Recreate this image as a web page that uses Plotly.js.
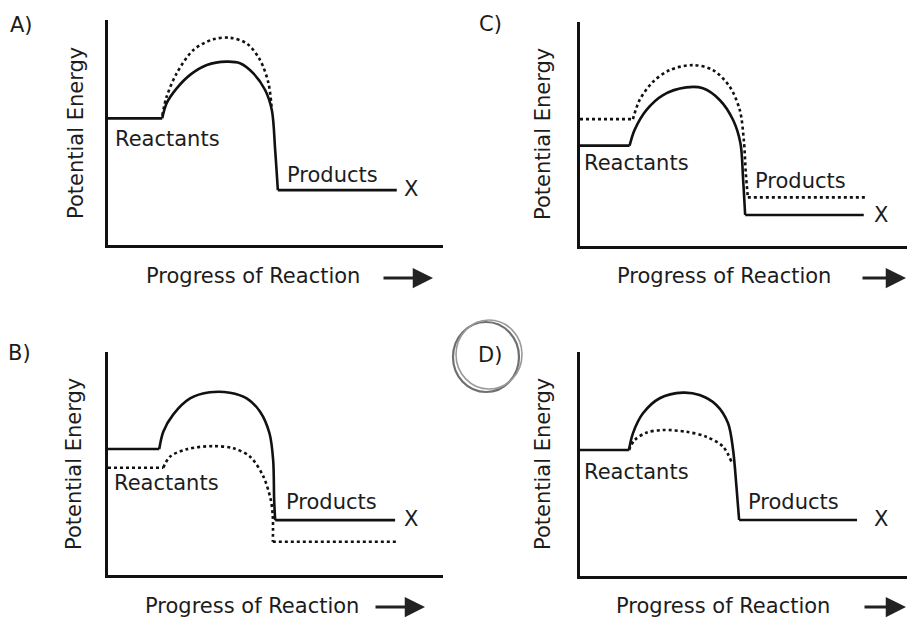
<!DOCTYPE html>
<html><head><meta charset="utf-8">
<script src="https://cdn.plot.ly/plotly-3.0.1.min.js"></script>
<style>html,body{margin:0;padding:0;background:#fff}#chart{width:907px;height:618px}</style>
</head><body><div id="chart"></div>
<script>
// ---------------- DATA (progress 0-100, potential energy 0-100) ----------------
// Panel A
const aSolidX  = [0, 16.2, 17.5, 20.5, 24.5, 29.5, 35.4, 39.4, 43.4, 46.9, 48.9, 49.9, 50.7, 86.2];
const aSolidY  = [56.3, 56.3, 63, 69.6, 75.6, 80, 81.5, 80.8, 76.3, 68.9, 60, 42.2, 24.4, 24.4];
const aDotX    = [16.2, 17.5, 20.5, 25.5, 31.4, 36.4, 41.4, 45.4, 47.9, 48.9];
const aDotY    = [57.5, 65.9, 76.3, 86.7, 91.4, 92.1, 89.6, 82.2, 71.9, 60];
// Panel B
const bSolidX  = [0, 15.3, 16.5, 19.5, 24.5, 30.4, 36.4, 41.4, 45.4, 48.2, 49.3, 49.6, 49.9, 85.7];
const bSolidY  = [56, 56, 63.7, 71.4, 78.5, 81.2, 81, 78.5, 72.6, 63, 51.1, 33.3, 24.4, 24.4];
const bDotX    = [0, 16.5, 18.5, 23.5, 31.4, 37.4, 42.4, 46.4, 48.6, 49.2, 49.2, 86.7];
const bDotY    = [47.7, 47.7, 52.6, 55.9, 57.3, 56.3, 52.6, 43.7, 33.3, 25.9, 14.8, 14.8];
// Panel C
const cSolidX  = [0, 14.8, 16.3, 19.8, 24.8, 31.7, 36.7, 41.7, 45.7, 47.9, 48.7, 49.3, 84.7];
const cSolidY  = [44.6, 44.6, 51.6, 60.4, 67.1, 70.5, 70.1, 64.9, 56, 45.6, 29.3, 13.8, 13.8];
const cDotX    = [0, 15.8, 17.8, 21.8, 26.8, 33.7, 39.7, 44.7, 47.7, 48.9, 49.5, 50.1, 85.2];
const cDotY    = [56.4, 56.4, 64.9, 73, 78.2, 80.4, 78.2, 70.8, 60.4, 47.1, 32.3, 21.6, 21.6];
// Panel D
const dSolidX  = [0, 14.6, 15.8, 18.8, 23.8, 30.7, 35.7, 40.7, 44.2, 45.7, 46.7, 47.5, 82.7];
const dSolidY  = [56, 56, 63.4, 72.3, 79, 81.5, 80.4, 76, 67.9, 56, 39.7, 24.9, 24.9];
const dDotX    = [14.6, 16.3, 19.8, 24.8, 31.7, 37.7, 42.7, 45.2];
const dDotY    = [56, 60.4, 63.7, 64.9, 64.1, 61.9, 57.5, 50.8];

// Text
const panelLetters = ['A)', 'B)', 'C)', 'D)'];
const yTitle = 'Potential Energy';
const xTitle = 'Progress of Reaction';
const reactLabel = 'Reactants';
const prodLabel = 'Products';
const xMark = 'X';

// ---------------- LAYOUT / BUILD ----------------
const W = 907, H = 618;
const px = v => v / W;
const py = v => 1 - v / H;
const FONT = 'DejaVu Sans';
const INK = '#111';
const TXT = '#1c1c1c';

const panels = [
  {xa:'x',  ya:'y',  left:108, right:443, top:20,  bottom:245, solid:[aSolidX,aSolidY], dot:[aDotX,aDotY], dotFlat:false,
   letter:[21,25], react:[167,139], prod:[332,175], xm:[411,189], yt:[76,133], xt:[253,276], arrow:[382,433,278]},
  {xa:'x2', ya:'y2', left:108, right:443, top:352, bottom:575, solid:[bSolidX,bSolidY], dot:[bDotX,bDotY], dotFlat:true,
   letter:[19,353], react:[166,483], prod:[331,502], xm:[411,519], yt:[74,464], xt:[252,606], arrow:[374,425,607]},
  {xa:'x3', ya:'y3', left:580, right:915, top:22,  bottom:246, solid:[cSolidX,cSolidY], dot:[cDotX,cDotY], dotFlat:true,
   letter:[490,24], react:[636,163], prod:[800,181], xm:[881,215], yt:[543,134], xt:[724,276], arrow:[861,915,278]},
  {xa:'x4', ya:'y4', left:580, right:915, top:352, bottom:576, solid:[dSolidX,dSolidY], dot:[dDotX,dDotY], dotFlat:false,
   letter:[490,355], react:[636,472], prod:[793,502], xm:[881,519], yt:[543,464], xt:[723,606], arrow:[863,915,607]}
];

const XS = 3.35, YS = 2.25; // px per data unit
const traces = [];
const layout = {
  width: W, height: H, margin:{l:0,r:0,t:0,b:0,pad:0},
  paper_bgcolor:'#fff', plot_bgcolor:'rgba(0,0,0,0)',
  showlegend:false, hovermode:false,
  annotations:[], shapes:[]
};

function seg(x, y, a, b) { return [x.slice(a, b), y.slice(a, b)]; }
function addLine(p, xs, ys, dash, spline) {
  traces.push({type:'scatter', mode:'lines', x:xs, y:ys, xaxis:p.xa, yaxis:p.ya,
    line:{color:INK, width:2.6, dash:dash, shape: spline ? 'spline' : 'linear', smoothing:0.9},
    hoverinfo:'skip'});
}
function addCurve(p, X, Y, dash, flat) {
  const n = X.length;
  if (flat) {
    let s = seg(X, Y, 0, 2); addLine(p, s[0], s[1], dash, false);
    s = seg(X, Y, 1, n - 1); addLine(p, s[0], s[1], dash, true);
    s = seg(X, Y, n - 2, n); addLine(p, s[0], s[1], dash, false);
  } else {
    addLine(p, X, Y, dash, true);
  }
}

function ann(text, x, y, opts) {
  layout.annotations.push(Object.assign({text, x:px(x), y:py(y), xref:'paper', yref:'paper',
    showarrow:false, xanchor:'center', yanchor:'middle',
    font:{family:FONT, size:21, color:TXT}}, opts || {}));
}

panels.forEach((p, i) => {
  const xk = 'xaxis' + (i ? i + 1 : '');
  const yk = 'yaxis' + (i ? i + 1 : '');
  const xEnd = Math.min(p.right, W);
  layout[xk] = {domain:[px(p.left), px(xEnd)], range:[0, (xEnd - p.left) / XS], anchor:p.ya,
    showline:true, linecolor:INK, linewidth:2.6, showticklabels:false, ticks:'', showgrid:false,
    zeroline:false, fixedrange:true};
  layout[yk] = {domain:[py(p.bottom), py(p.top)], range:[0, (p.bottom - p.top) / YS], anchor:p.xa,
    showline:true, linecolor:INK, linewidth:2.6, showticklabels:false, ticks:'', showgrid:false,
    zeroline:false, fixedrange:true};

  addCurve(p, p.dot[0], p.dot[1], 'dot', p.dotFlat);
  addCurve(p, p.solid[0], p.solid[1], 'solid', true);

  ann(panelLetters[i], p.letter[0], p.letter[1], {font:{family:FONT, size:21, color:TXT}});
  ann(reactLabel, p.react[0], p.react[1]);
  ann(prodLabel, p.prod[0], p.prod[1]);
  ann(xMark, p.xm[0], p.xm[1], {font:{family:FONT, size:21, color:TXT}});
  ann(yTitle, p.yt[0], p.yt[1], {textangle:-90});
  ann(xTitle, p.xt[0], p.xt[1]);
  // arrow after x-axis title
  layout.annotations.push({text:'', xref:'paper', yref:'paper', x:px(p.arrow[1]), y:py(p.arrow[2]),
    axref:'pixel', ayref:'pixel', ax:-(p.arrow[1] - p.arrow[0]), ay:0, showarrow:true,
    arrowhead:2, arrowsize:1.35, arrowwidth:3, arrowcolor:'#222', standoff:0});
});

// hand-drawn circle around D)
layout.shapes.push({type:'circle', xref:'paper', yref:'paper', x0:px(453), x1:px(519), y0:py(392), y1:py(322),
  line:{color:'#6f6f6f', width:2.2}});
layout.shapes.push({type:'circle', xref:'paper', yref:'paper', x0:px(456), x1:px(522), y0:py(389), y1:py(320),
  line:{color:'#9a9a9a', width:1.6}});

Plotly.newPlot('chart', traces, layout, {staticPlot:true, displayModeBar:false});
</script>
</body></html>
